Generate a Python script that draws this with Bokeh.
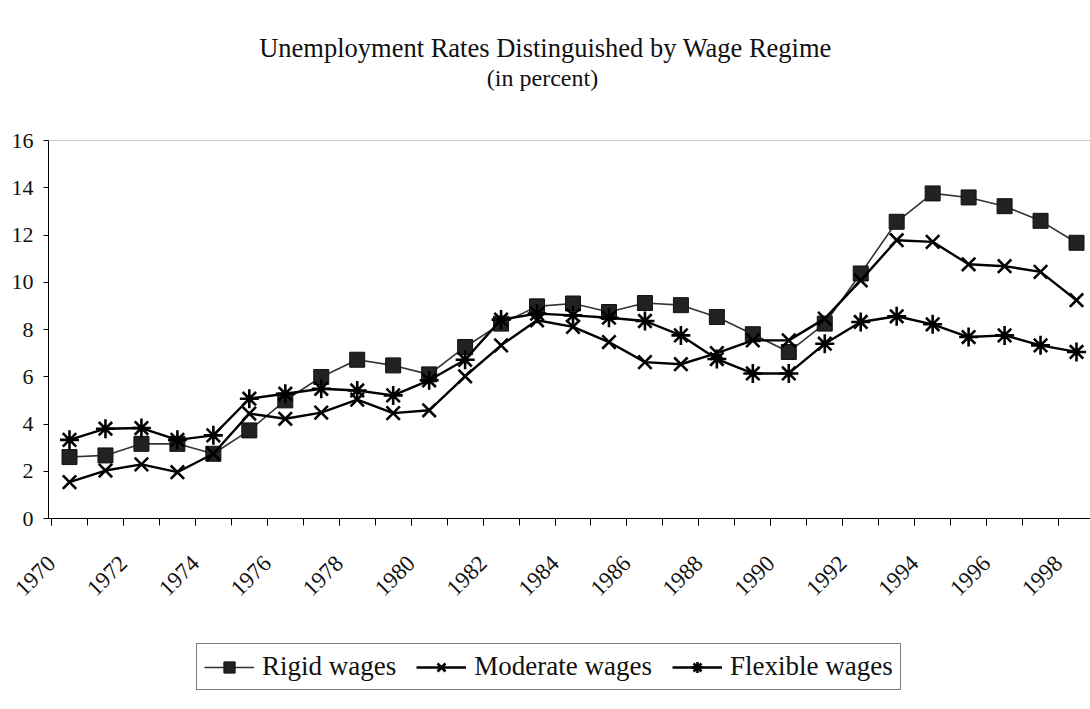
import math
from bokeh.plotting import figure
from bokeh.layouts import column
from bokeh.models import Range1d, FixedTicker, Legend, LegendItem, Span, Label
from bokeh.embed import file_html
from bokeh.resources import INLINE

# ---- data ----
years = list(range(1970, 1999))
rigid = [2.60, 2.67, 3.16, 3.16, 2.74, 3.73, 5.00, 5.99, 6.72, 6.48,
         6.10, 7.26, 8.25, 8.98, 9.10, 8.74, 9.12, 9.03, 8.53, 7.80,
         7.05, 8.25, 10.37, 12.56, 13.76, 13.59, 13.22, 12.60, 11.67]
moderate = [1.54, 2.03, 2.29, 1.96, 2.74, 4.44, 4.22, 4.48, 5.03, 4.46,
            4.58, 6.02, 7.33, 8.39, 8.11, 7.47, 6.62, 6.53, 7.00, 7.54,
            7.54, 8.46, 10.08, 11.78, 11.71, 10.76, 10.68, 10.44, 9.24]
flexible = [3.33, 3.80, 3.83, 3.33, 3.52, 5.07, 5.28, 5.49, 5.42, 5.21,
            5.85, 6.72, 8.42, 8.67, 8.60, 8.50, 8.36, 7.75, 6.75, 6.14,
            6.14, 7.40, 8.32, 8.56, 8.22, 7.68, 7.75, 7.33, 7.05]
series_names = ["Rigid wages", "Moderate wages", "Flexible wages"]
y_ticks = [0, 2, 4, 6, 8, 10, 12, 14, 16]
x_label_years = years[::2]
title_text = "Unemployment Rates Distinguished by Wage Regime"
subtitle_text = "(in percent)"

SERIF = "Liberation Serif"
INK = "#111111"

# styles per series
styles = [
    dict(line=dict(line_color="#333333", line_width=1.6),
         pts=dict(marker="square", size=15, fill_color="#222222", line_color="#111111", line_width=1)),
    dict(line=dict(line_color="black", line_width=2.4),
         pts=dict(marker="x", size=19, line_color="black", line_width=2.6)),
    dict(line=dict(line_color="black", line_width=2.4),
         pts=dict(marker="asterisk", size=19, line_color="black", line_width=2.6)),
]

# the column aligns the strips' frames with the chart frame (which starts 48px in)
def strip(height, x_rng, y_rng):
    fig = figure(width=1090, height=height, output_backend="svg", toolbar_location=None,
                 x_range=x_rng, y_range=y_rng,
                 x_axis_location=None, y_axis_location=None,
                 min_border=0, min_border_left=0, min_border_right=0,
                 min_border_top=0, min_border_bottom=0)
    fig.grid.visible = False
    fig.outline_line_color = None
    fig.background_fill_color = "white"
    fig.border_fill_color = "white"
    return fig

# ---------- title strip (x range spans the strip's frame in page pixels) ----------
t = strip(120, Range1d(48, 1090), Range1d(120, 0))
t.add_layout(Label(x=545, y=47, text=title_text, text_align="center",
                   text_baseline="middle", text_font=SERIF, text_font_size="26.5px",
                   text_color=INK))
t.add_layout(Label(x=542, y=77, text=subtitle_text, text_align="center",
                   text_baseline="middle", text_font=SERIF, text_font_size="24px",
                   text_color=INK))

# ---------- main chart ----------
p = figure(frame_width=1042, frame_height=378, output_backend="svg", toolbar_location=None,
           x_range=Range1d(1969.416, 1998.389), y_range=Range1d(0, 16),
           min_border_left=48, min_border_right=0, min_border_top=20,
           min_border_bottom=100)
p.background_fill_color = "white"
p.border_fill_color = "white"
p.outline_line_color = None
p.grid.visible = False

p.add_layout(Span(location=16, dimension="width", line_color="#999999", line_width=1))

for vals, st in zip([rigid, moderate, flexible], styles):
    p.line(years, vals, **st["line"])
    p.scatter(years, vals, **st["pts"])

xa = p.xaxis[0]
xa.ticker = FixedTicker(ticks=[y - 0.5 for y in x_label_years],
                        minor_ticks=[y - 0.5 for y in years])
xa.major_label_overrides = {y - 0.5: str(y) for y in x_label_years}
xa.major_label_orientation = math.pi / 4
xa.major_label_text_font = SERIF
xa.major_label_text_font_size = "23px"
xa.major_label_text_color = INK
xa.axis_line_color = "black"
xa.major_tick_line_color = "black"
xa.minor_tick_line_color = "black"
xa.major_tick_out = 7
xa.major_tick_in = 0
xa.minor_tick_out = 7
xa.minor_tick_in = 0
xa.major_label_standoff = 34

ya = p.yaxis[0]
ya.ticker = FixedTicker(ticks=y_ticks)
ya.major_label_text_font = SERIF
ya.major_label_text_font_size = "22px"
ya.major_label_text_color = INK
ya.axis_line_color = "black"
ya.major_tick_line_color = "black"
ya.major_tick_out = 5
ya.major_tick_in = 0
ya.minor_tick_line_color = None
ya.major_label_standoff = 10

# ---------- legend strip ----------
# the series are drawn again here only to carry their styles into the legend;
# they fall outside this strip's ranges and are not visible
lg = strip(91, Range1d(0, 1), Range1d(0, 1))
items = []
for name, vals, st in zip(series_names, [rigid, moderate, flexible], styles):
    lr = lg.line(years, vals, **st["line"])
    sr = lg.scatter(years, vals, **st["pts"])
    items.append(LegendItem(label=name, renderers=[lr, sr]))
legend = Legend(items=items, orientation="horizontal", location=(148, 19))
legend.label_text_font = SERIF
legend.label_text_font_size = "27px"
legend.label_text_color = INK
legend.label_height = 28
legend.glyph_width = 50
legend.glyph_height = 28
legend.label_standoff = 8
legend.spacing = 20
legend.padding = 7
legend.margin = 0
legend.border_line_color = "black"
legend.border_line_width = 1
legend.background_fill_alpha = 0
lg.add_layout(legend)

layout = column(t, p, lg, spacing=0)
open("out.html", "w").write(file_html(layout, INLINE))
